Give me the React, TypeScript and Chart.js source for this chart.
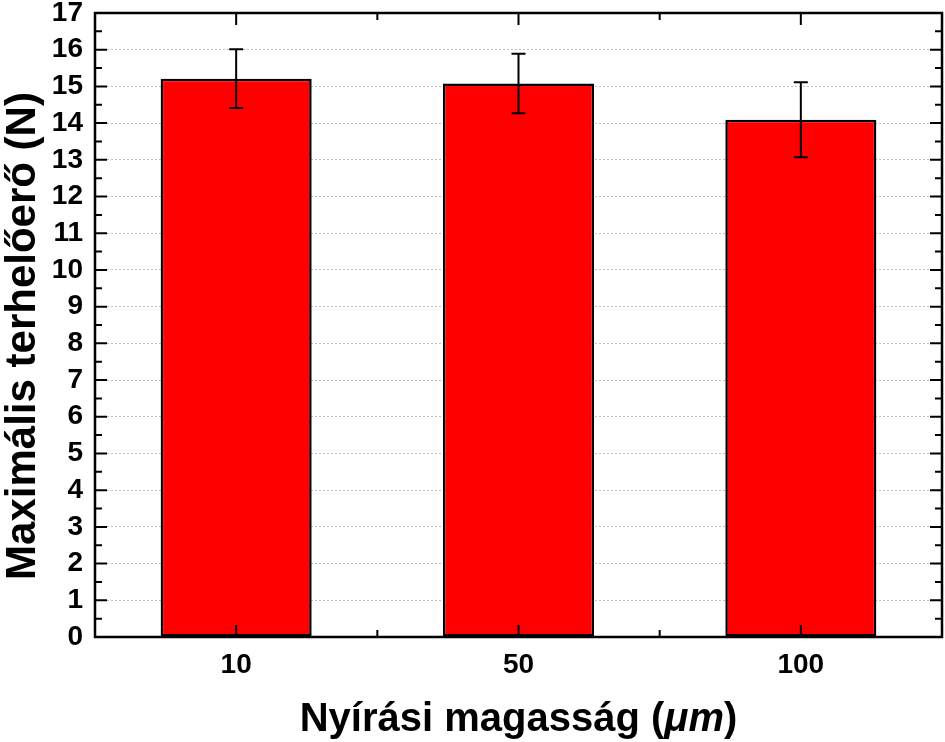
import React, { useEffect, useRef } from "react";
import { Chart, registerables } from "chart.js";

Chart.register(...registerables);

const categories = ["10", "50", "100"];
const values = [15.21, 15.08, 14.09];
const errors = [0.8, 0.81, 1.02];
const yMin = 0;
const yMax = 17;
const yStep = 1;
const xTitle = "Nyírási magasság (";
const xTitleItalic = "μm";
const yTitle = "Maximális terhelőerő (N)";

const FONT = "'Liberation Sans', Arial, sans-serif";

const framePlugin = {
  id: "frameAndErrors",
  afterDatasetsDraw(chart: any) {
    const ctx = chart.ctx;
    const xs = chart.scales.x;
    const ys = chart.scales.y;
    const { left, right, top, bottom } = chart.chartArea;
    ctx.save();
    // error bars
    ctx.strokeStyle = "#000";
    ctx.lineWidth = 2;
    values.forEach((v, i) => {
      const x = xs.getPixelForValue(i);
      const yt = ys.getPixelForValue(v + errors[i]);
      const yb = ys.getPixelForValue(v - errors[i]);
      ctx.beginPath();
      ctx.moveTo(x, yt);
      ctx.lineTo(x, yb);
      ctx.moveTo(x - 7, yt);
      ctx.lineTo(x + 7, yt);
      ctx.moveTo(x - 7, yb);
      ctx.lineTo(x + 7, yb);
      ctx.stroke();
    });
    // frame
    ctx.lineWidth = 2.5;
    ctx.strokeRect(left, top, right - left, bottom - top);
    // y ticks
    ctx.lineWidth = 2;
    ctx.beginPath();
    for (let v = yMin; v <= yMax; v += yStep / 2) {
      const y = ys.getPixelForValue(v);
      const len = Math.abs(v - Math.round(v)) < 1e-6 ? 12 : 7;
      ctx.moveTo(left, y);
      ctx.lineTo(left + len, y);
      ctx.moveTo(right, y);
      ctx.lineTo(right - len, y);
    }
    // x ticks
    for (let i = 0; i < categories.length; i++) {
      const x = xs.getPixelForValue(i);
      ctx.moveTo(x, bottom);
      ctx.lineTo(x, bottom - 12);
      ctx.moveTo(x, top);
      ctx.lineTo(x, top + 12);
      if (i < categories.length - 1) {
        const xm = (x + xs.getPixelForValue(i + 1)) / 2;
        ctx.moveTo(xm, bottom);
        ctx.lineTo(xm, bottom - 7);
        ctx.moveTo(xm, top);
        ctx.lineTo(xm, top + 7);
      }
    }
    ctx.stroke();
    // x title with italic part
    const fs = 40;
    const boldFont = `bold ${fs}px ${FONT}`;
    const italFont = `italic bold ${fs}px ${FONT}`;
    ctx.fillStyle = "#000";
    ctx.textBaseline = "alphabetic";
    ctx.font = boldFont;
    const w1 = ctx.measureText(xTitle).width;
    const w3 = ctx.measureText(")").width;
    ctx.font = italFont;
    const w2 = ctx.measureText(xTitleItalic).width;
    const total = w1 + w2 + w3;
    const cx = (left + right) / 2;
    const x0 = cx - total / 2;
    const yb = 731;
    ctx.font = boldFont;
    ctx.textAlign = "left";
    ctx.fillText(xTitle, x0, yb);
    ctx.font = italFont;
    ctx.fillText(xTitleItalic, x0 + w1, yb);
    ctx.font = boldFont;
    ctx.fillText(")", x0 + w1 + w2, yb);
    // y title
    ctx.font = `bold 42px ${FONT}`;
    ctx.textAlign = "center";
    ctx.translate(35, (top + bottom) / 2 + 11);
    ctx.rotate(-Math.PI / 2);
    ctx.fillText(yTitle, 0, 0);
    ctx.restore();
  },
};

export default function App() {
  const ref = useRef<HTMLCanvasElement | null>(null);
  useEffect(() => {
    if (!ref.current) return;
    const chart = new Chart(ref.current, {
      type: "bar",
      data: {
        labels: categories,
        datasets: [
          {
            data: values,
            backgroundColor: "#ff0000",
            borderColor: "#000000",
            borderWidth: 2.5,
            borderSkipped: false,
            categoryPercentage: 1,
            barPercentage: 0.535,
          },
        ],
      },
      options: {
        animation: false,
        responsive: false,
        maintainAspectRatio: false,
        devicePixelRatio: 1,
        layout: { padding: { top: 13, right: 3, left: 0, bottom: 0 } },
        plugins: { legend: { display: false }, tooltip: { enabled: false } },
        scales: {
          x: {
            grid: { display: false, drawTicks: false },
            border: { display: false },
            ticks: {
              color: "#000",
              padding: 11,
              autoSkip: false,
              maxRotation: 0,
              font: { family: FONT, size: 28, weight: "bold" },
            },
            afterFit(scale: any) {
              scale.height = 105;
              scale.paddingLeft = 0;
              scale.paddingRight = 0;
            },
          },
          y: {
            min: yMin,
            max: yMax,
            grid: { color: "#c0c0c0", lineWidth: 1, drawTicks: false },
            border: { display: false, dash: [2, 2] },
            ticks: {
              stepSize: yStep,
              autoSkip: false,
              color: "#000",
              padding: 12,
              font: { family: FONT, size: 28, weight: "bold" },
            },
            afterFit(scale: any) {
              scale.width = 95;
              scale.paddingTop = 0;
              scale.paddingBottom = 0;
            },
          },
        },
      },
      plugins: [framePlugin],
    });
    return () => chart.destroy();
  }, []);
  return (
    <div style={{ position: "fixed", left: 0, top: 0, width: 945, height: 742, background: "#fff" }}>
      <canvas ref={ref} width={945} height={742} style={{ width: 945, height: 742, display: "block" }} />
    </div>
  );
}
